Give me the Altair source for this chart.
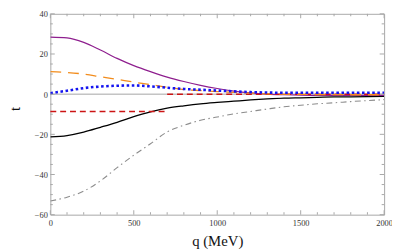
import altair as alt
import pandas as pd

# ---- data ----
q = list(range(0, 2001, 100))
purple = [28.4, 28.0, 25.8, 22.0, 17.8, 14.2, 11.2, 8.5, 6.3, 4.4, 2.8, 1.5, 0.6, 0.0, -0.3, -0.5, -0.6, -0.6, -0.6, -0.6, -0.6]
orange = [11.2, 10.8, 10.0, 8.7, 7.4, 6.0, 4.8, 3.4, 2.3, 1.8, 1.3, 0.9, 0.5, 0.2, 0.0, -0.1, -0.2, -0.2, -0.3, -0.3, -0.3]
blue = [0.5, 1.7, 3.0, 3.8, 4.2, 4.3, 3.9, 3.2, 2.6, 2.2, 1.8, 1.4, 1.0, 0.8, 0.7, 0.7, 0.7, 0.7, 0.7, 0.7, 0.7]
black = [-21.3, -20.6, -18.9, -16.5, -14.0, -11.2, -8.8, -7.0, -5.8, -4.8, -4.1, -3.5, -2.9, -2.4, -2.0, -1.8, -1.6, -1.4, -1.3, -1.2, -1.1]
gray = [-53.2, -51.3, -48.3, -43.2, -36.6, -30.4, -24.7, -18.8, -15.5, -13.0, -11.4, -9.8, -8.6, -7.4, -6.3, -5.5, -4.8, -4.3, -3.7, -3.2, -2.7]

red_q = [0, 700, 700, 2000]
red_t = [-8.6, -8.6, 0.0, 0.0]
red_seg = [0, 0, 1, 1]

zero_q = [0, 2000]
zero_t = [0, 0]

x_major = [0, 500, 1000, 1500, 2000]
x_minor = [v for v in range(100, 2000, 100) if v % 500 != 0]
y_major = [-60, -40, -20, 0, 20, 40]
y_minor = [v for v in range(-55, 40, 5) if v % 20 != 0]

W, H = 339, 204
FONT = "Liberation Serif"
FRAME = "#a8a8a8"

xs = alt.Scale(domain=[0, 2000], nice=False, zero=False)
ys = alt.Scale(domain=[-60, 40], nice=False, zero=False)

x_axis = alt.Axis(values=x_major, format="d", ticks=False, domain=False, grid=False,
                  labelPadding=4.5, labelFont=FONT, labelFontSize=8.5, labelColor="#333",
                  labelFlush=False,
                  title="q (MeV)", titleFont=FONT, titleFontSize=15, titleFontWeight="normal",
                  titleColor="#111", titleY=31.5, titleBaseline="alphabetic")
y_axis = alt.Axis(values=y_major, format="d", ticks=False, domain=False, grid=False,
                  labelPadding=3, labelFont=FONT, labelFontSize=8.5, labelColor="#333",
                  labelFlush=False,
                  title="t", titleFont=FONT, titleFontSize=15, titleFontWeight="normal",
                  titleColor="#111", titleX=-31, titleY=96, titleAngle=270,
                  titleAlign="center", titleBaseline="alphabetic")

X = alt.X("q:Q", scale=xs, axis=x_axis)
Y = alt.Y("t:Q", scale=ys, axis=y_axis)

zero = alt.Chart(pd.DataFrame({"q": zero_q, "t": zero_t})).mark_line(
    color="#9a9a9a", strokeWidth=0.9).encode(x=X, y=Y)


def curve(vals, color, width, dash=None):
    df = pd.DataFrame({"q": q, "t": vals})
    kw = dict(color=color, strokeWidth=width, interpolate="monotone", clip=True)
    if dash:
        kw["strokeDash"] = dash
    return alt.Chart(df).mark_line(**kw).encode(x=X, y=Y)


l_gray = curve(gray, "#8c8c8c", 1.1, [6, 3.5, 1.5, 3.5])
l_black = curve(black, "#000000", 1.3)
l_purple = curve(purple, "#8e1e8e", 1.2)
l_red = alt.Chart(pd.DataFrame({"q": red_q, "t": red_t, "seg": red_seg})).mark_line(
    color="#cc1414", strokeWidth=1.5, strokeDash=[6, 4]).encode(
    x=X, y=Y, detail="seg:N")
l_orange = curve(orange, "#f28c1c", 1.3, [11, 7])
l_blue = curve(blue, "#1414f0", 2.6, [2.6, 2.6])


def xticks(vals, length, top):
    df = pd.DataFrame({"q": vals})
    if top:
        yy, yy2 = alt.value(0), alt.value(length)
    else:
        yy, yy2 = alt.value(H), alt.value(H - length)
    return alt.Chart(df).mark_rule(color=FRAME, strokeWidth=1).encode(
        x=X, y=yy, y2=yy2)


def yticks(vals, length, right):
    df = pd.DataFrame({"t": vals})
    if right:
        xx, xx2 = alt.value(W), alt.value(W - length)
    else:
        xx, xx2 = alt.value(0), alt.value(length)
    return alt.Chart(df).mark_rule(color=FRAME, strokeWidth=1).encode(
        y=Y, x=xx, x2=xx2)


ticks = [
    xticks(x_major, 4.5, False), xticks(x_minor, 2.5, False),
    xticks(x_major, 4.5, True), xticks(x_minor, 2.5, True),
    yticks(y_major, 4.5, False), yticks(y_minor, 2.5, False),
    yticks(y_major, 4.5, True), yticks(y_minor, 2.5, True),
]

chart = alt.layer(
    zero, l_gray, l_black, l_purple, l_red, l_orange, l_blue, *ticks
).properties(
    width=W, height=H,
    autosize=alt.AutoSizeParams(type="none"),
    padding={"left": 43, "top": 4, "right": 8, "bottom": 36},
    background="white",
).configure_view(stroke=FRAME, strokeWidth=1)

chart.save("out.html", embed_options={"renderer": "svg", "actions": False})
